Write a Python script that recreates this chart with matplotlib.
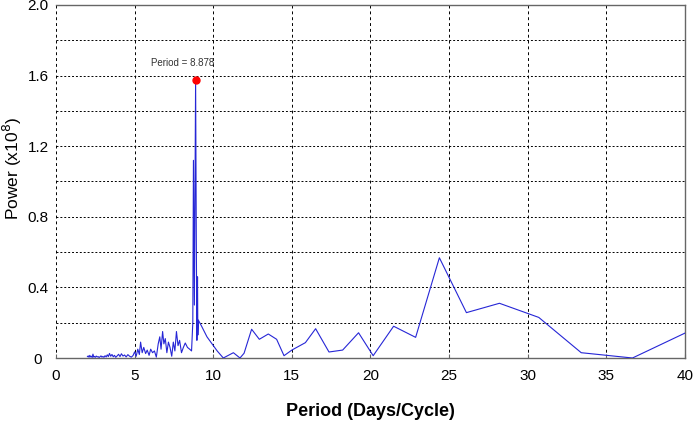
import numpy as np
import matplotlib
matplotlib.use("Agg")
import matplotlib.pyplot as plt

plt.rcParams['font.family'] = ['Liberation Sans', 'DejaVu Sans']

# Periodogram data (period in days/cycle, power in 1e8)
noise_period = [2.00, 2.05, 2.10, 2.15, 2.20, 2.25, 2.30, 2.35, 2.40, 2.45, 2.50, 2.56, 2.62, 2.68,
                2.74, 2.80, 2.86, 2.92, 2.98, 3.05, 3.12, 3.19, 3.26, 3.33, 3.40, 3.48, 3.56, 3.64,
                3.72, 3.80, 3.89, 3.98, 4.07, 4.16, 4.26, 4.36, 4.46, 4.57, 4.68, 4.79, 4.90]
noise_power = [0.008, 0.012, 0.004, 0.015, 0.006, 0.010, 0.003, 0.022, 0.005, 0.009, 0.004, 0.011,
               0.006, 0.008, 0.003, 0.007, 0.012, 0.005, 0.009, 0.004, 0.013, 0.006, 0.018, 0.008,
               0.026, 0.010, 0.020, 0.007, 0.015, 0.004, 0.012, 0.021, 0.008, 0.024, 0.011, 0.017,
               0.006, 0.019, 0.010, 0.005, 0.014]

mid_period = [5.00, 5.10, 5.20, 5.30, 5.38, 5.48, 5.58, 5.70, 5.80, 5.92, 6.02, 6.14, 6.26, 6.38,
              6.50, 6.60, 6.68, 6.78, 6.86, 6.95, 7.05, 7.15, 7.25, 7.36, 7.46, 7.56, 7.66, 7.76,
              7.86, 7.98, 8.10, 8.22, 8.36, 8.50, 8.62]
mid_power = [0.035, 0.010, 0.050, 0.020, 0.090, 0.030, 0.060, 0.025, 0.045, 0.015, 0.050, 0.030,
             0.040, 0.005, 0.080, 0.120, 0.050, 0.150, 0.080, 0.110, 0.030, 0.090, 0.060, 0.010,
             0.090, 0.040, 0.150, 0.070, 0.100, 0.030, 0.060, 0.085, 0.060, 0.050, 0.040]

long_period = [8.70, 8.74, 8.80, 8.878, 8.92, 8.96, 9.00, 9.02, 9.05, 9.26, 9.60, 9.90, 10.25,
               10.64, 11.28, 11.70, 11.96, 12.44, 12.93, 13.50, 14.03, 14.50, 15.00, 15.86, 16.51,
               17.36, 18.23, 19.24, 20.17, 21.47, 22.87, 24.38, 26.10, 28.20, 30.70, 33.40, 36.66,
               40.80]
long_power = [0.200, 1.120, 0.300, 1.575, 0.710, 0.100, 0.460, 0.130, 0.215, 0.180, 0.120, 0.083,
              0.040, 0.000, 0.030, 0.000, 0.027, 0.163, 0.106, 0.136, 0.106, 0.013, 0.045, 0.087,
              0.166, 0.034, 0.045, 0.143, 0.013, 0.180, 0.117, 0.568, 0.257, 0.310, 0.230, 0.030,
              0.000, 0.175]

peak_period = 8.878
peak_power = 1.575

period = noise_period + mid_period + long_period
power = noise_power + mid_power + long_power

fig = plt.figure(figsize=(6.93, 4.33), dpi=100)
ax = fig.add_axes([56 / 693, 75 / 433, 629 / 693, 353 / 433])

ax.plot(period, power, color='#2626d6', lw=0.8, zorder=3)
ax.plot([peak_period], [peak_power], 'o', color='red', markersize=5, zorder=4)
ax.annotate("Period = %.3f" % peak_period, (peak_period, peak_power),
            xytext=(-9, 12), textcoords='offset points', ha='center', va='center',
            fontsize=7, color='#333333')

ax.set_xlim(0, 40)
ax.set_ylim(0, 2.0)
ax.set_xticks(np.arange(0, 41, 5))
ax.set_yticks([0, 0.4, 0.8, 1.2, 1.6, 2.0])
ax.set_yticklabels(["0", "0.4", "0.8", "1.2", "1.6", "2.0"])
ax.set_yticks(np.arange(0.2, 2.0, 0.4), minor=True)

# grid: dashed verticals, dotted horizontals
ax.xaxis.grid(True, which='major', linestyle=(0, (3, 3)), color='black', lw=0.7)
ax.yaxis.grid(True, which='both', linestyle=(0, (2, 2)), color='black', lw=0.7)
ax.set_axisbelow(True)

for side in ['top', 'right', 'bottom']:
    ax.spines[side].set_color('#666666')
    ax.spines[side].set_linewidth(1.0)
ax.spines['left'].set_visible(False)

ax.tick_params(axis='x', which='both', direction='in', length=3, color='#666666',
               labelsize=11, pad=8)
ax.tick_params(axis='y', which='both', length=0, labelsize=11, pad=13)
for lab in ax.get_yticklabels():
    lab.set_horizontalalignment('center')

ax.set_xlabel("Period (Days/Cycle)", fontsize=13, fontweight='bold', labelpad=14)
fig.text(12 / 693, 1 - 168 / 433, "Power (x10$^{8}$)", rotation=90, fontsize=12.5,
         ha='center', va='center')

fig.savefig("out.png", dpi=100)
